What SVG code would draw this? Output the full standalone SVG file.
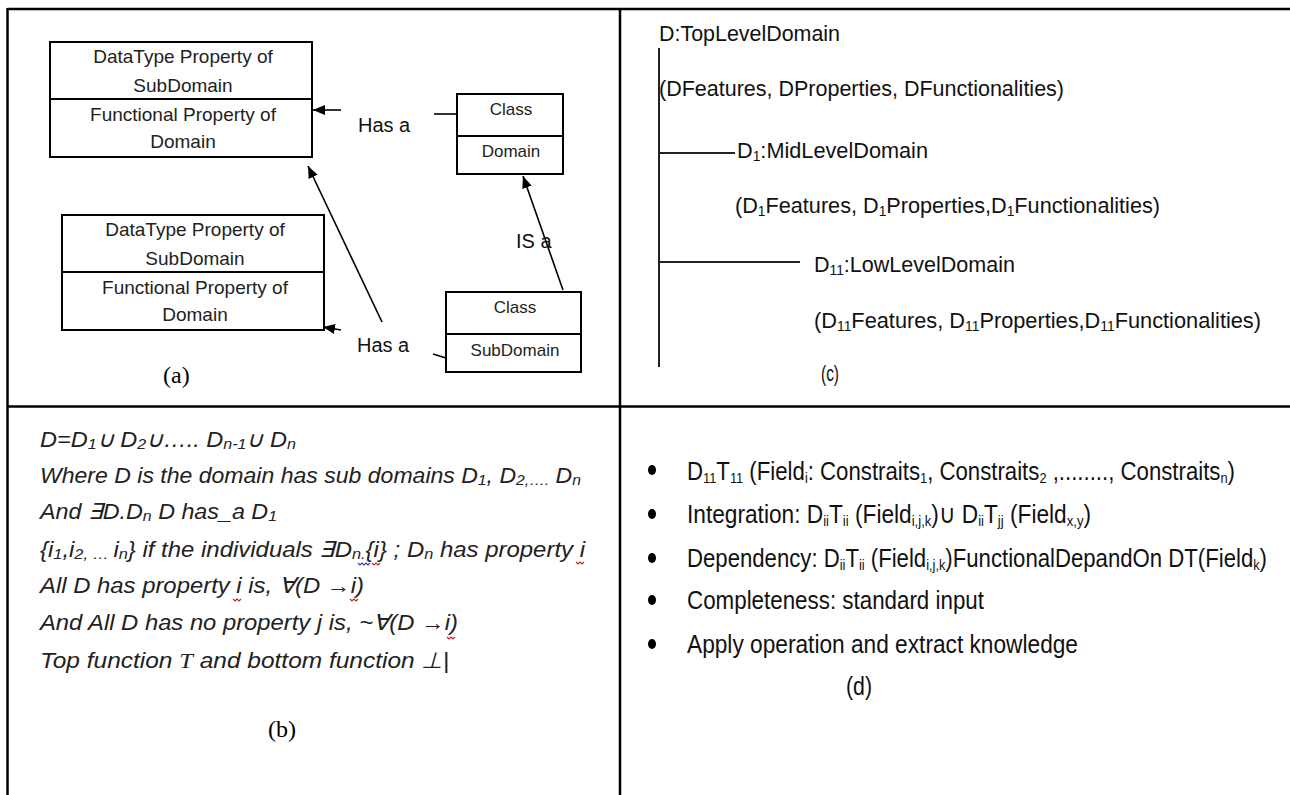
<svg xmlns="http://www.w3.org/2000/svg" width="1290" height="795" viewBox="0 0 1290 795">
<style>
.frame{stroke:#000;stroke-width:2.5;fill:none}
.box{stroke:#000;stroke-width:2;fill:#fff}
.bt{font-family:"Liberation Sans",Arial,sans-serif;font-size:19px;fill:#222;text-anchor:middle}
.ct{font-family:"Liberation Sans",Arial,sans-serif;font-size:17px;fill:#222;text-anchor:middle}
.lab{font-family:"Liberation Sans",Arial,sans-serif;font-size:20px;fill:#111}
.cap{font-family:"Liberation Serif","Times New Roman",serif;font-size:24px;fill:#000}
.conn{stroke:#000;stroke-width:1.6;fill:none}
.tree{stroke:#222;stroke-width:2;fill:none}
.ctx{font-family:"Liberation Sans",Arial,sans-serif;font-size:22px;fill:#111}
.btx{font-family:"Liberation Sans",Arial,sans-serif;font-size:22px;font-style:italic;fill:#222}
.dtx{font-family:"Liberation Sans",Arial,sans-serif;font-size:26px;fill:#111}
.sq{stroke-width:1.2;fill:none}
</style>
<defs>
<marker id="ah" markerUnits="userSpaceOnUse" markerWidth="13" markerHeight="11" refX="12" refY="5" orient="auto">
<path d="M0,0 L12,5 L0,10 z" fill="#000"/>
</marker>
</defs>

<g id="frame">
<line class="frame" x1="7.5" y1="9" x2="1290" y2="9"/>
<line class="frame" x1="7.5" y1="8" x2="7.5" y2="795"/>
<line class="frame" x1="620" y1="8" x2="620" y2="795"/>
<line class="frame" x1="7" y1="406.5" x2="1290" y2="406.5" stroke-width="3"/>
</g>

<!-- Panel (a) -->
<g id="node-prop1">
<rect class="box" x="50" y="42" width="262" height="115"/>
<line class="box" x1="50" y1="99" x2="312" y2="99"/>
<text class="bt" x="183" y="63">DataType Property of</text>
<text class="bt" x="183" y="92">SubDomain</text>
<text class="bt" x="183" y="121">Functional Property of</text>
<text class="bt" x="183" y="148">Domain</text>
</g>
<g id="node-prop2">
<rect class="box" x="62" y="215" width="262" height="115"/>
<line class="box" x1="62" y1="272" x2="324" y2="272"/>
<text class="bt" x="195" y="236">DataType Property of</text>
<text class="bt" x="195" y="265">SubDomain</text>
<text class="bt" x="195" y="294">Functional Property of</text>
<text class="bt" x="195" y="321">Domain</text>
</g>
<g id="node-class-domain">
<rect class="box" x="457" y="94" width="106" height="80"/>
<line class="box" x1="457" y1="136" x2="563" y2="136"/>
<text class="ct" x="511" y="115">Class</text>
<text class="ct" x="511" y="157">Domain</text>
</g>
<g id="node-class-subdomain">
<rect class="box" x="446" y="292" width="135" height="80"/>
<line class="box" x1="446" y1="334" x2="581" y2="334"/>
<text class="ct" x="515" y="313">Class</text>
<text class="ct" x="515" y="356">SubDomain</text>
</g>
<g id="connectors">
<line class="conn" x1="341" y1="110" x2="313" y2="110" marker-end="url(#ah)"/>
<line class="conn" x1="434" y1="114" x2="457" y2="114"/>
<line class="conn" x1="382" y1="322" x2="308" y2="166" marker-end="url(#ah)"/>
<line class="conn" x1="563" y1="290" x2="523" y2="176" marker-end="url(#ah)"/>
<line class="conn" x1="341" y1="330" x2="323" y2="327" marker-end="url(#ah)"/>
<line class="conn" x1="433" y1="354" x2="446" y2="358"/>
<text class="lab" x="358" y="132">Has a</text>
<text class="lab" x="516" y="248">IS a</text>
<text class="lab" x="357" y="352">Has a</text>
</g>
<text class="cap" x="163" y="383">(a)</text>

<!-- Panel (c) -->
<g id="tree">
<line class="tree" x1="659" y1="48" x2="659" y2="367"/>
<line class="tree" x1="658" y1="153" x2="735" y2="153"/>
<line class="tree" x1="658" y1="262" x2="800" y2="262"/>
</g>
<g id="node-top">
<text class="ctx" x="659" y="41" textLength="181" lengthAdjust="spacingAndGlyphs">D:TopLevelDomain</text>
<text class="ctx" x="659" y="96" textLength="405" lengthAdjust="spacingAndGlyphs">(DFeatures, DProperties, DFunctionalities)</text>
</g>
<g id="node-mid">
<text class="ctx" x="737" y="158" textLength="191" lengthAdjust="spacingAndGlyphs">D<tspan font-size="14" dy="3">1</tspan><tspan dy="-3">:MidLevelDomain</tspan></text>
<text class="ctx" x="735" y="213" textLength="425" lengthAdjust="spacingAndGlyphs">(D<tspan font-size="14" dy="3">1</tspan><tspan dy="-3">Features, D</tspan><tspan font-size="14" dy="3">1</tspan><tspan dy="-3">Properties,D</tspan><tspan font-size="14" dy="3">1</tspan><tspan dy="-3">Functionalities)</tspan></text>
</g>
<g id="node-low">
<text class="ctx" x="814" y="272" textLength="201" lengthAdjust="spacingAndGlyphs">D<tspan font-size="14" dy="3">11</tspan><tspan dy="-3">:LowLevelDomain</tspan></text>
<text class="ctx" x="814" y="328" textLength="447" lengthAdjust="spacingAndGlyphs">(D<tspan font-size="14" dy="3">11</tspan><tspan dy="-3">Features, D</tspan><tspan font-size="14" dy="3">11</tspan><tspan dy="-3">Properties,D</tspan><tspan font-size="14" dy="3">11</tspan><tspan dy="-3">Functionalities)</tspan></text>
</g>
<text class="ctx" x="821" y="381" textLength="18" lengthAdjust="spacingAndGlyphs">(c)</text>

<!-- Panel (b) -->
<g id="formulas">
<text class="btx" x="40" y="447" textLength="256" lengthAdjust="spacingAndGlyphs">D=D<tspan font-size="15" dy="2">1</tspan><tspan dy="-2">∪ D</tspan><tspan font-size="15" dy="2">2</tspan><tspan dy="-2">∪….. D</tspan><tspan font-size="15" dy="2">n-1</tspan><tspan dy="-2">∪  D</tspan><tspan font-size="15" dy="2">n</tspan></text>
<text class="btx" x="40" y="483" textLength="541" lengthAdjust="spacingAndGlyphs">Where D is the domain has sub domains D<tspan font-size="15" dy="2">1</tspan><tspan dy="-2">, D</tspan><tspan font-size="15" dy="2">2,….</tspan><tspan dy="-2"> D</tspan><tspan font-size="15" dy="2">n</tspan></text>
<text class="btx" x="40" y="519" textLength="237" lengthAdjust="spacingAndGlyphs">And ∃D.D<tspan font-size="15" dy="2">n</tspan><tspan dy="-2">  D has_a D</tspan><tspan font-size="15" dy="2">1</tspan></text>
<text class="btx" x="40" y="557" textLength="545" lengthAdjust="spacingAndGlyphs">{i<tspan font-size="15" dy="2">1</tspan><tspan dy="-2">,i</tspan><tspan font-size="15" dy="2">2, … </tspan><tspan dy="-2">i</tspan><tspan font-size="15" dy="2">n</tspan><tspan dy="-2">} if the individuals ∃D</tspan><tspan font-size="15" dy="2">n.</tspan><tspan dy="-2">{i} ; D</tspan><tspan font-size="15" dy="2">n</tspan><tspan dy="-2"> has property i</tspan></text>
<text class="btx" x="40" y="593" textLength="324" lengthAdjust="spacingAndGlyphs">All D has property i is,  ∀(D →i)</text>
<text class="btx" x="40" y="630" textLength="418" lengthAdjust="spacingAndGlyphs">And All D has no property j is, ~∀(D →i)</text>
<text class="btx" x="40" y="668" textLength="409" lengthAdjust="spacingAndGlyphs">Top function  <tspan font-family="Liberation Serif,serif">T</tspan> and bottom function ⊥|</text>
<path class="sq" stroke="#2a3fd0" d="M358,563 l2,2 l2,-2 l2,2 l2,-2 l2,2 l2,-2"/>
<path class="sq" stroke="#d02020" d="M372,563 l2,2 l2,-2 l2,2 l2,-2"/>
<path class="sq" stroke="#d02020" d="M576,562 l2,2 l2,-2 l2,2 l2,-2"/>
<path class="sq" stroke="#d02020" d="M233,599 l2,2 l2,-2 l2,2 l2,-2"/>
<path class="sq" stroke="#d02020" d="M350,599 l2,2 l2,-2 l2,2 l2,-2"/>
<path class="sq" stroke="#d02020" d="M447,637 l2,2 l2,-2 l2,2 l2,-2"/>
</g>
<text class="cap" x="268" y="737">(b)</text>

<!-- Panel (d) -->
<g id="bullets">
<ellipse cx="652" cy="470" rx="4" ry="5" fill="#000"/>
<ellipse cx="652" cy="514" rx="4" ry="5" fill="#000"/>
<ellipse cx="652" cy="558" rx="4" ry="5" fill="#000"/>
<ellipse cx="652" cy="600" rx="4" ry="5" fill="#000"/>
<ellipse cx="652" cy="644" rx="4" ry="5" fill="#000"/>
<text class="dtx" x="687" y="480" textLength="548" lengthAdjust="spacingAndGlyphs">D<tspan font-size="15" dy="3">11</tspan><tspan dy="-3">T</tspan><tspan font-size="15" dy="3">11</tspan><tspan dy="-3"> (Field</tspan><tspan font-size="15" dy="3">i</tspan><tspan dy="-3">: Constraits</tspan><tspan font-size="15" dy="3">1</tspan><tspan dy="-3">, Constraits</tspan><tspan font-size="15" dy="3">2</tspan><tspan dy="-3"> ,........, Constraits</tspan><tspan font-size="15" dy="3">n</tspan><tspan dy="-3">)</tspan></text>
<text class="dtx" x="687" y="523" textLength="404" lengthAdjust="spacingAndGlyphs">Integration: D<tspan font-size="15" dy="3">ii</tspan><tspan dy="-3">T</tspan><tspan font-size="15" dy="3">ii</tspan><tspan dy="-3"> (Field</tspan><tspan font-size="15" dy="3">i,j,k</tspan><tspan dy="-3">)∪ D</tspan><tspan font-size="15" dy="3">ii</tspan><tspan dy="-3">T</tspan><tspan font-size="15" dy="3">jj</tspan><tspan dy="-3"> (Field</tspan><tspan font-size="15" dy="3">x,y</tspan><tspan dy="-3">)</tspan></text>
<text class="dtx" x="687" y="567" textLength="580" lengthAdjust="spacingAndGlyphs">Dependency: D<tspan font-size="15" dy="3">ii</tspan><tspan dy="-3">T</tspan><tspan font-size="15" dy="3">ii</tspan><tspan dy="-3"> (Field</tspan><tspan font-size="15" dy="3">i,j,k</tspan><tspan dy="-3">)FunctionalDepandOn DT(Field</tspan><tspan font-size="15" dy="3">k</tspan><tspan dy="-3">)</tspan></text>
<text class="dtx" x="687" y="609" textLength="297" lengthAdjust="spacingAndGlyphs">Completeness: standard input</text>
<text class="dtx" x="687" y="653" textLength="391" lengthAdjust="spacingAndGlyphs">Apply operation and extract knowledge</text>
</g>
<text class="dtx" x="846" y="695" textLength="26" lengthAdjust="spacingAndGlyphs">(d)</text>
</svg>
